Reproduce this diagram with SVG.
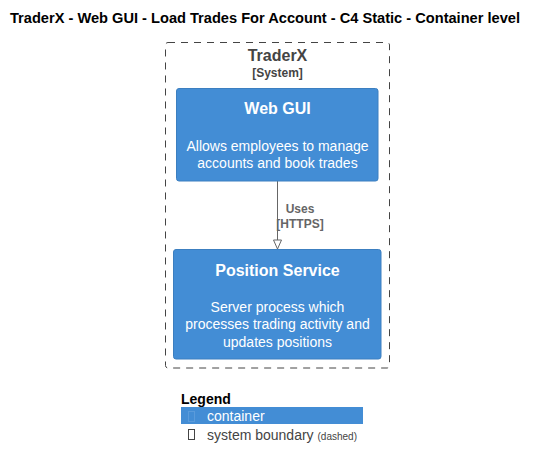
<svg xmlns="http://www.w3.org/2000/svg" width="538" height="468" viewBox="0 0 538 468">
<style>
text{font-family:"Liberation Sans",Arial,sans-serif}
.title{font-size:14px;font-weight:bold;fill:#000}
.bname{font-size:16px;font-weight:bold;fill:#444444}
.btype{font-size:12px;font-weight:bold;fill:#444444}
.box{fill:#438DD5;stroke:#3C7FC0;stroke-width:1}
.name{font-size:16px;font-weight:bold;fill:#FFFFFF}
.desc{font-size:14px;fill:#FFFFFF}
.lbl{font-size:12px;font-weight:bold;fill:#666666}
</style>
<rect width="538" height="468" fill="#FFFFFF"/>
<text class="title" x="10" y="23" textLength="510" lengthAdjust="spacingAndGlyphs">TraderX - Web GUI - Load Trades For Account - C4 Static - Container level</text>
<g id="traderx">
<rect x="165.5" y="42.5" width="224" height="325.5" rx="2.5" fill="none" stroke="#444444" stroke-width="1" stroke-dasharray="7,6"/>
<text class="bname" x="277.5" y="61" text-anchor="middle">TraderX</text>
<text class="btype" x="277.5" y="77" text-anchor="middle">[System]</text>
</g>
<g id="connectors">
<line x1="277.5" y1="181" x2="277.5" y2="240" stroke="#666666" stroke-width="1"/>
<path d="M273.5,240 L277.5,249 L281.5,240 Z" fill="#FFFFFF" stroke="#666666" stroke-width="1"/>
<text class="lbl" x="300" y="213" text-anchor="middle">Uses</text>
<text class="lbl" x="300" y="228" text-anchor="middle">[HTTPS]</text>
</g>
<g id="webgui">
<rect class="box" x="176.5" y="88.5" width="201.5" height="92.5" rx="2.5"/>
<text class="name" x="277.5" y="114" text-anchor="middle">Web GUI</text>
<text class="desc" x="277.5" y="151" text-anchor="middle">Allows employees to manage</text>
<text class="desc" x="277.5" y="168" text-anchor="middle">accounts and book trades</text>
</g>
<g id="positionservice">
<rect class="box" x="173.5" y="249.5" width="207.5" height="109.5" rx="2.5"/>
<text class="name" x="277.5" y="276" text-anchor="middle">Position Service</text>
<text class="desc" x="277.5" y="312" text-anchor="middle">Server process which</text>
<text class="desc" x="277.5" y="329" text-anchor="middle">processes trading activity and</text>
<text class="desc" x="277.5" y="347" text-anchor="middle">updates positions</text>
</g>
<g id="legend">
<text x="181" y="404" style="font-size:14px;font-weight:bold;fill:#000">Legend</text>
<rect x="181" y="407" width="182" height="17" fill="#438DD5"/>
<rect x="188.5" y="411.5" width="6" height="10" fill="none" stroke="#5A9BDB" stroke-width="1"/>
<text x="207" y="421" style="font-size:14px;fill:#FFFFFF">container</text>
<rect x="188.5" y="429.5" width="6" height="10" fill="none" stroke="#444444" stroke-width="1"/>
<text x="207" y="440" style="font-size:14px;fill:#444444">system boundary <tspan style="font-size:10px">(dashed)</tspan></text>
</g>
</svg>
